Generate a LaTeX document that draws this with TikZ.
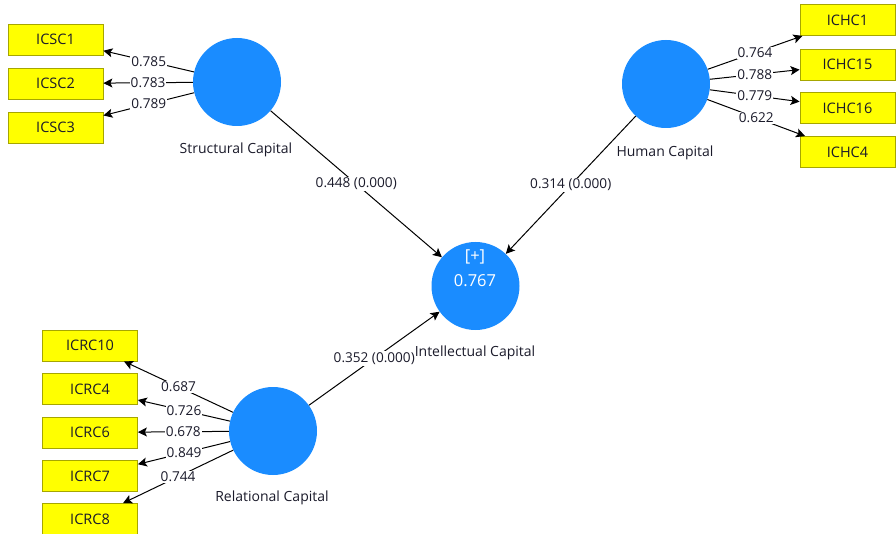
\documentclass[tikz,border=0pt]{standalone}
\usepackage{fontspec}
\setmainfont{Open Sans}
\usetikzlibrary{arrows.meta}

\definecolor{lvblue}{HTML}{1A8CFF}
\definecolor{mvyellow}{HTML}{FFFF00}
\definecolor{mvborder}{HTML}{A6A600}
\definecolor{txtdark}{HTML}{1A1A2A}

\begin{document}
\begin{tikzpicture}[x=1pt,y=-1pt,
    latent/.style={circle,fill=lvblue,minimum size=88pt,inner sep=0pt},
    indicator/.style={rectangle,fill=mvyellow,draw=mvborder,line width=0.8pt,
        minimum width=95pt,minimum height=31pt,inner sep=0pt,
        font=\fontsize{14.5}{16}\selectfont,text=txtdark},
    loading/.style={draw=black,line width=1pt,-{Stealth[length=9pt,width=9pt,inset=2pt]}},
    weight/.style={fill=white,inner sep=1pt,font=\fontsize{13.6}{15}\selectfont,text=txtdark},
    lvname/.style={font=\fontsize{14}{16}\selectfont,text=txtdark},
    lvvalue/.style={font=\fontsize{16.5}{18}\selectfont,text=white}]

\useasboundingbox (0,0) rectangle (896,534);

% latent variables
\node[latent] (sc) at (237,82) {};
\node[lvname] (sclabel) at (236,150) {Structural Capital};
\node[latent] (hc) at (666,84) {};
\node[lvname] (hclabel) at (665,153) {Human Capital};
\node[latent] (rc) at (273,431) {};
\node[lvname] (rclabel) at (272,498) {Relational Capital};
\node[latent] (ic) at (475.5,286) {};
\node[lvvalue] (icplus) at (475,257) {[+]};
\node[lvvalue] (icr2) at (475,281) {0.767};

% indicators
\foreach \name/\y in {ICSC1/39.5, ICSC2/83.5, ICSC3/127.5}
    \node[indicator] (\name) at (55.5,\y) {\name};
\foreach \name/\y in {ICHC1/20, ICHC15/64.5, ICHC16/108, ICHC4/152}
    \node[indicator] (\name) at (847.5,\y) {\name};
\foreach \name/\y in {ICRC10/345.5, ICRC4/389, ICRC6/432.5, ICRC7/476, ICRC8/519}
    \node[indicator] (\name) at (90,\y) {\name};

% outer loadings
\foreach \name/\w in {ICSC1/0.785, ICSC2/0.783, ICSC3/0.789}
    \draw[loading] (sc) -- node[weight] {\w} (\name);
\foreach \name/\w in {ICHC1/0.764, ICHC15/0.788, ICHC16/0.779, ICHC4/0.622}
    \draw[loading] (hc) -- node[weight] {\w} (\name);
\foreach \name/\w in {ICRC10/0.687, ICRC4/0.726, ICRC6/0.678, ICRC7/0.849, ICRC8/0.744}
    \draw[loading] (rc) -- node[weight] {\w} (\name);

% path coefficients
\draw[loading] (sc) -- node[weight] {0.448 (0.000)} (ic);
\draw[loading] (hc) -- node[weight] {0.314 (0.000)} (ic);
\draw[loading] (rc) -- node[weight] {0.352 (0.000)} (ic);

\node[lvname] (iclabel) at (475,353) {Intellectual Capital};

\end{tikzpicture}
\end{document}
